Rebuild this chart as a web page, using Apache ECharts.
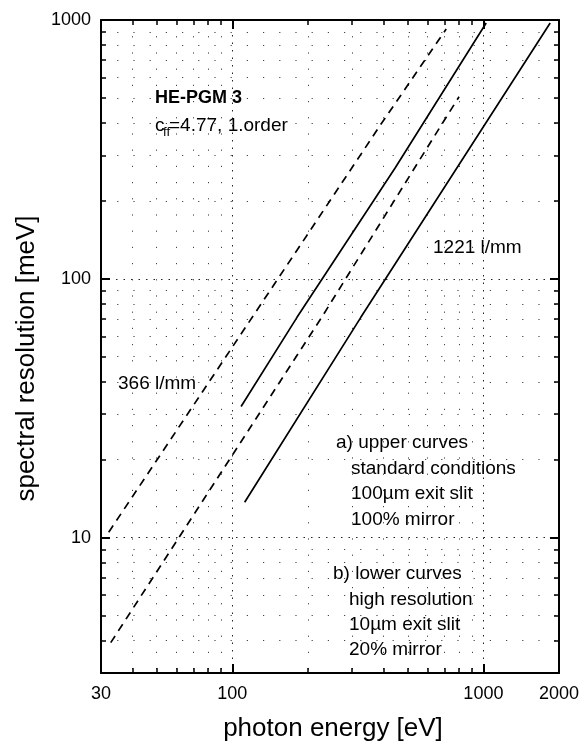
<!DOCTYPE html>
<html>
<head>
<meta charset="utf-8">
<script src="https://cdn.jsdelivr.net/npm/echarts@6/dist/echarts.min.js"></script>
<style>
  html, body { margin: 0; padding: 0; background: #fff; }
  #chart { width: 582px; height: 747px; }
</style>
</head>
<body>
<div id="chart"></div>
<script>
// Axis ranges and tick positions (photon energy in eV, resolution in meV)
const energyRange = [30, 2000];
const energyMinor = [40, 50, 60, 70, 80, 90, 200, 300, 400, 500, 600, 700, 800, 900, 2000];
const energyLabels = [30, 100, 1000, 2000];

const resRange = [3, 1000];
const resMinor = [4, 5, 6, 7, 8, 9, 20, 30, 40, 50, 60, 70, 80, 90, 200, 300, 400, 500, 600, 700, 800, 900];
const resLabels = [10, 100, 1000];

// 366 l/mm grating, standard conditions (100 um slit, 100% mirror)
const g366StdE = [32.2, 181, 389, 711];
const g366StdR = [10.5, 129, 393, 923];
// 366 l/mm grating, high resolution (10 um slit, 20% mirror)
const g366HiE = [32.8, 227, 680, 800];
const g366HiR = [3.93, 71, 393, 505];
// 1221 l/mm grating, standard conditions
const g1221StdE = [108.4, 181, 445, 1026];
const g1221StdR = [32.1, 71, 268, 973];
// 1221 l/mm grating, high resolution
const g1221HiE = [112, 325, 784, 1845];
const g1221HiR = [13.7, 71, 268, 973];

const FONT = '"Liberation Sans", Arial, Helvetica, sans-serif';

function pairs(xs, ys) { return xs.map((x, i) => [x, ys[i]]); }
function plain(v) { return String(Math.round(v)); }

const majorGrid = { show: true, lineStyle: { color: '#222', width: 1, type: [1.5, 6] } };
const minorGrid = { show: true, lineStyle: { color: '#444', width: 1, type: [1.2, 15] } };

function logAxis(opts) {
  return Object.assign({
    type: 'log',
    logBase: 10,
    axisLine: { show: false },
    axisLabel: { show: false },
    axisTick: { show: false },
    splitLine: { show: false },
    minorTick: { show: false },
    minorSplitLine: { show: false }
  }, opts);
}

// decades get long ticks, intermediate values short ones; all point inward
const majorTick = { show: true, inside: true, length: 9, lineStyle: { color: '#000', width: 2 } };
function minorTick(values) {
  return { show: true, inside: true, length: 5, customValues: values, lineStyle: { color: '#000', width: 1.5 } };
}

function xAxes() {
  const base = { min: energyRange[0], max: energyRange[1] };
  return [
    logAxis(Object.assign({}, base, {
      position: 'bottom',
      axisLine: { show: true, onZero: false, lineStyle: { color: '#000', width: 2 } },
      axisTick: majorTick,
      axisLabel: { show: true, customValues: energyLabels, formatter: plain, margin: 12, color: '#000', fontSize: 18, fontFamily: FONT },
      splitLine: majorGrid,
      name: 'photon energy [eV]',
      nameLocation: 'middle',
      nameGap: 43,
      nameTextStyle: { color: '#000', fontSize: 26, fontFamily: FONT, padding: [0, 0, 0, 6] }
    })),
    logAxis(Object.assign({}, base, {
      position: 'bottom',
      axisTick: minorTick(energyMinor),
      splitLine: minorGrid
    })),
    logAxis(Object.assign({}, base, {
      position: 'top',
      axisLine: { show: true, onZero: false, lineStyle: { color: '#000', width: 2 } },
      axisTick: majorTick
    })),
    logAxis(Object.assign({}, base, {
      position: 'top',
      axisTick: minorTick(energyMinor)
    }))
  ];
}

function yAxes() {
  const base = { min: resRange[0], max: resRange[1] };
  return [
    logAxis(Object.assign({}, base, {
      position: 'left',
      axisLine: { show: true, onZero: false, lineStyle: { color: '#000', width: 2 } },
      axisTick: majorTick,
      axisLabel: { show: true, customValues: resLabels, formatter: plain, margin: 10, color: '#000', fontSize: 18, fontFamily: FONT },
      splitLine: majorGrid,
      name: 'spectral resolution [meV]',
      nameLocation: 'middle',
      nameGap: 60,
      nameTextStyle: { color: '#000', fontSize: 26, fontFamily: FONT, padding: [0, 24, 0, 0] }
    })),
    logAxis(Object.assign({}, base, {
      position: 'left',
      axisTick: minorTick(resMinor),
      splitLine: minorGrid
    })),
    logAxis(Object.assign({}, base, {
      position: 'right',
      axisLine: { show: true, onZero: false, lineStyle: { color: '#000', width: 2 } },
      axisTick: majorTick
    })),
    logAxis(Object.assign({}, base, {
      position: 'right',
      axisTick: minorTick(resMinor)
    }))
  ];
}

function curve(name, xs, ys, dashed) {
  return {
    name: name,
    type: 'line',
    xAxisIndex: 0,
    yAxisIndex: 0,
    data: pairs(xs, ys),
    showSymbol: false,
    symbol: 'none',
    silent: true,
    lineStyle: { color: '#000', width: 1.7, type: dashed ? [8, 6] : 'solid' },
    z: 5
  };
}

function label(text, x, y, extra) {
  return {
    type: 'text', x: x, y: y, z: 10,
    style: Object.assign({
      text: text, fill: '#000', fontSize: 19, fontFamily: FONT,
      align: 'left', verticalAlign: 'middle'
    }, extra || {})
  };
}

const chart = echarts.init(document.getElementById('chart'), null, { renderer: 'canvas' });
chart.setOption({
  backgroundColor: '#fff',
  animation: false,
  grid: { left: 101, right: 13, top: 20, bottom: 71, containLabel: false },
  xAxis: xAxes(),
  yAxis: yAxes(),
  series: [
    curve('366 l/mm standard', g366StdE, g366StdR, true),
    curve('366 l/mm high resolution', g366HiE, g366HiR, true),
    curve('1221 l/mm standard', g1221StdE, g1221StdR, false),
    curve('1221 l/mm high resolution', g1221HiE, g1221HiR, false)
  ],
  graphic: [
    label('HE-PGM 3', 155, 98, { fontWeight: 'bold', fontSize: 18 }),
    label('c', 155, 126),
    label('ff', 163, 132, { fontSize: 13 }),
    label('=4.77, 1.order', 169, 126),
    label('366 l/mm', 118, 384),
    label('1221 l/mm', 433, 248),
    label('a) upper curves', 336, 443),
    label('standard conditions', 351, 469),
    label('100\u00b5m exit slit', 351, 494),
    label('100% mirror', 351, 520),
    label('b) lower curves', 333, 574),
    label('high resolution', 349, 600),
    label('10\u00b5m exit slit', 349, 625),
    label('20% mirror', 349, 650)
  ]
});
</script>
</body>
</html>
